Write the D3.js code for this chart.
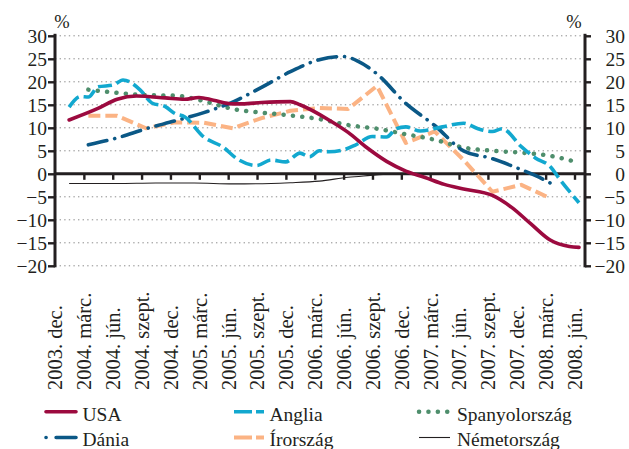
<!DOCTYPE html>
<html><head><meta charset="utf-8">
<script src="https://cdn.jsdelivr.net/npm/d3@7"></script>
<style>
html,body{margin:0;padding:0;background:#fff;}
svg{display:block;}
svg text{font-family:"Liberation Serif","Times New Roman",Times,"DejaVu Serif",serif;}
</style></head><body>
<svg id="c" width="629" height="449"></svg>
<script>
// ---- data ----
const categories = ["2003. dec.","2004. márc.","2004. jún.","2004. szept.","2004. dec.","2005. márc.","2005. jún.","2005. szept.","2005. dec.","2006. márc.","2006. jún.","2006. szept.","2006. dec.","2007. márc.","2007. jún.","2007. szept.","2007. dec.","2008. márc.","2008. jún."];
const yTicks = [-20,-15,-10,-5,0,5,10,15,20,25,30];
// [months since 2003 Dec, % change]
const usa = [[1,11.7],[4,14.2],[6,16.2],[8,16.9],[11,16.5],[13,16.2],[14.5,16.6],[16,16.0],[18,15.2],[19,15.2],[21,15.5],[24,15.7],[25,15.0],[28,11.7],[30,9.0],[32,5.6],[34,2.7],[36,0.6],[38,-0.8],[40,-2.3],[42,-3.3],[45,-4.7],[47,-7.3],[49,-10.9],[51,-14.4],[53,-15.8],[54,-16.0]];
const anglia = [[1,14.5],[2.2,16.8],[3,16.7],[4,18.9],[5.6,19.3],[6.6,20.4],[8.4,18.2],[9.6,15.4],[11,14.6],[12,13.1],[13,12.4],[15,8.0],[17,5.8],[18.5,3.2],[20.5,1.8],[22,3.0],[23.5,2.6],[25,4.5],[26,3.7],[27,5.0],[28,4.8],[29.5,5.2],[30.8,6.3],[32.5,8.1],[34,8.0],[35,9.8],[36,10.2],[37.5,9.3],[39.8,10.2],[42,11.0],[43.5,9.8],[45,9.2],[46,9.8],[48,5.9],[49.5,3.4],[51,1.6],[52,-1.2],[54,-6.3]];
const spanyol = [[3,18.3],[6,17.6],[9,17.1],[12,17.0],[15,15.8],[18,14.1],[21,13.3],[24,12.7],[27,11.9],[30,10.6],[33,9.8],[36,8.6],[39,7.4],[42,5.7],[45,5.0],[48,4.6],[51,3.9],[54,2.4]];
const dania = [[3,6.3],[6,7.8],[9,9.8],[12,11.5],[15,13.3],[18,15.6],[21,18.8],[24,22.2],[27,24.8],[29.5,25.5],[31,24.5],[33,21.7],[36,15.3],[39,10.5],[42,5.0],[45,3.3],[48,0.9],[49.5,-0.4],[51,-2.0]];
const irorszag = [[3,12.6],[6,12.6],[9,9.9],[12,11.2],[15,11.1],[18,9.9],[21,12.1],[24,13.7],[27,14.3],[30,14.1],[33,19.1],[36,6.7],[39,9.2],[42,3.0],[45,-3.9],[48,-2.4],[51,-5.3]];
const nemet = [[1,-2.1],[6,-2.1],[10,-2.0],[14,-2.0],[18,-2.2],[22,-2.1],[24,-1.95],[27,-1.6],[30,-0.75],[32,-0.4],[34,-0.1],[36,0.1]];

// ---- styles ----
const series = [
  {name:"USA", data:usa, color:"#9c0a3f", width:3.6, dash:null, cap:"round", curve:d3.curveMonotoneX},
  {name:"Anglia", data:anglia, color:"#12a8cf", width:3.6, dash:"14 5", cap:"butt", curve:d3.curveMonotoneX},
  {name:"Spanyolország", data:spanyol, color:"#4e8e6c", width:4.5, dash:"0.1 9.3", cap:"round", curve:d3.curveMonotoneX},
  {name:"Dánia", data:dania, color:"#0b5886", width:3.6, dash:"19 8 0.1 8", cap:"round", curve:d3.curveMonotoneX},
  {name:"Írország", data:irorszag, color:"#fbb384", width:4, dash:"12 5", cap:"butt", curve:d3.curveLinear},
  {name:"Németország", data:nemet, color:"#231f20", width:1.1, dash:null, cap:"butt", curve:d3.curveMonotoneX}
];
const drawOrder = ["Németország","Írország","Spanyolország","Dánia","Anglia","USA"];

const FONT = '"Liberation Serif","Times New Roman",Times,"DejaVu Serif",serif';
const svg = d3.select("#c");
const ink = "#231f20";
const L = 55, R = 585;
const y = d3.scaleLinear().domain([-20,30]).range([265.8,35.8]);
const x = d3.scaleLinear().domain([0,54]).range([59.5,579]);
const xCat = d3.scalePoint().domain(categories).range([55,574.5]);

// grid
svg.append("g").selectAll("line").data(yTicks.filter(d=>d!==0)).join("line")
  .attr("x1",L).attr("x2",R).attr("y1",d=>y(d)).attr("y2",d=>y(d))
  .attr("stroke","#8c8c8c").attr("stroke-width",1).attr("stroke-dasharray","1.4 3.2");

const fmt = d => d<0 ? "\u2212"+Math.abs(d) : String(d);

// left axis
const gl = svg.append("g").attr("transform",`translate(${L},0)`)
  .call(d3.axisLeft(y).tickValues(yTicks).tickSize(7).tickSizeOuter(0).tickPadding(1).tickFormat(fmt));
// right axis
const gr = svg.append("g").attr("transform",`translate(${R},0)`)
  .call(d3.axisRight(y).tickValues(yTicks).tickSize(6).tickSizeOuter(0).tickPadding(1).tickFormat(fmt));
[gl,gr].forEach(g=>{
  g.attr("font-family",FONT);
  g.select(".domain").attr("stroke",ink).attr("stroke-width",3).attr("d",`M0,${y(30)-2}V${y(-20)+1.5}`);
  g.selectAll(".tick line").attr("stroke",ink).attr("stroke-width",2.4);
  g.selectAll("text").attr("font-size",19.5).attr("fill",ink);
});
gr.selectAll("text").attr("text-anchor","end").attr("x",40);

// x axis (at zero)
const gx = svg.append("g").attr("transform",`translate(0,${y(0)})`)
  .call(d3.axisBottom(xCat).tickSize(6).tickSizeOuter(0).tickFormat(""));
gx.select(".domain").attr("stroke",ink).attr("stroke-width",3).attr("d",`M${L},0H${R}`);
gx.selectAll(".tick line").attr("stroke",ink).attr("stroke-width",2.4);
gx.selectAll(".tick").filter((d,i)=>i===0).select("line").remove();

// category labels
svg.append("g").attr("font-family",FONT).selectAll("text").data(categories).join("text")
  .attr("transform",d=>`translate(${xCat(d)},390) rotate(-90)`)
  .attr("dy","0.36em").attr("text-anchor","start")
  .attr("font-size",20.5).attr("fill",ink).text(d=>d);

// % labels
svg.append("text").attr("font-family",FONT).attr("x",62).attr("y",28).attr("text-anchor","middle").attr("font-size",18.5).attr("fill",ink).text("%");
svg.append("text").attr("font-family",FONT).attr("x",574).attr("y",28).attr("text-anchor","middle").attr("font-size",18.5).attr("fill",ink).text("%");

// lines
const byName = Object.fromEntries(series.map(s=>[s.name,s]));
drawOrder.forEach(n=>{
  const s = byName[n];
  const line = d3.line().x(d=>x(d[0])).y(d=>y(d[1])).curve(s.curve);
  svg.append("path").datum(s.data).attr("d",line).attr("fill","none")
    .attr("stroke",s.color).attr("stroke-width",s.width)
    .attr("stroke-linecap",s.cap).attr("stroke-linejoin","round")
    .attr("stroke-dasharray",s.dash);
});

// legend
const legendPos = [
  {name:"USA", col:0,row:0, sdash:null},
  {name:"Anglia", col:1,row:0, sdash:"18 4"},
  {name:"Spanyolország", col:2,row:0, sdash:"0.1 9.3"},
  {name:"Dánia", col:0,row:1, sdash:"0.1 10 20"},
  {name:"Írország", col:1,row:1, sdash:"18 4"},
  {name:"Németország", col:2,row:1, sdash:null}
];
const colX = [[46,76],[234,264],[419,450]], textX = [82.5,269.5,457];
const rowLineY = [411.7,437.5], rowTextY = [421,445.5];
const lg = svg.append("g").attr("font-family",FONT);
legendPos.forEach(p=>{
  const s = byName[p.name];
  lg.append("line").attr("x1",colX[p.col][0]).attr("x2",colX[p.col][1])
    .attr("y1",rowLineY[p.row]).attr("y2",rowLineY[p.row])
    .attr("stroke",s.color).attr("stroke-width",s.width)
    .attr("stroke-linecap",s.cap).attr("stroke-dasharray",p.sdash);
  lg.append("text").attr("x",textX[p.col]).attr("y",rowTextY[p.row])
    .attr("font-size",19.5).attr("fill",ink).text(p.name);
});
</script>
</body></html>
